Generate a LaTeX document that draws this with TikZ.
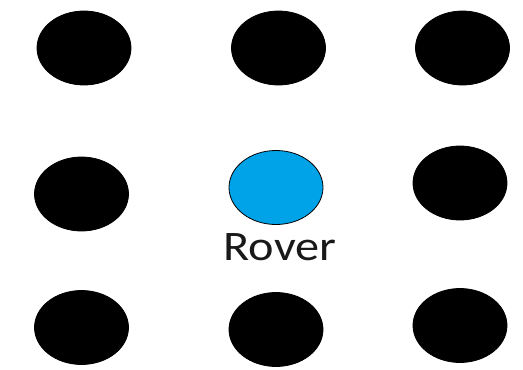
\documentclass[tikz,border=0pt]{standalone}
\usepackage{fontspec}
\setmainfont{Carlito}
\usetikzlibrary{shapes.geometric}
\definecolor{roverblue}{HTML}{00A2E8}
\begin{document}
\begin{tikzpicture}[x=1pt,y=-1pt,
  dot/.style={ellipse,fill=black,draw=black,minimum width=94pt,minimum height=74pt,inner sep=0pt,line width=0.8pt},
  roverdot/.style={dot,fill=roverblue},
  lbl/.style={font=\fontsize{42}{46}\selectfont,text=black!90,inner sep=0pt,xscale=1.15}]
\useasboundingbox (0,0) rectangle (523,370);
\node[dot] (a1) at (84,48) {};
\node[dot] (a2) at (278.5,48) {};
\node[dot] (a3) at (462.5,48) {};
\node[dot] (b1) at (81.5,194) {};
\node[roverdot] (rover) at (276,187.5) {};
\node[dot] (b3) at (460,183) {};
\node[dot] (c1) at (81.5,327.5) {};
\node[dot] (c2) at (276,329.5) {};
\node[dot] (c3) at (460,325.5) {};
\node[lbl,anchor=base] (label) at (280,260) {Rover};
\end{tikzpicture}
\end{document}
